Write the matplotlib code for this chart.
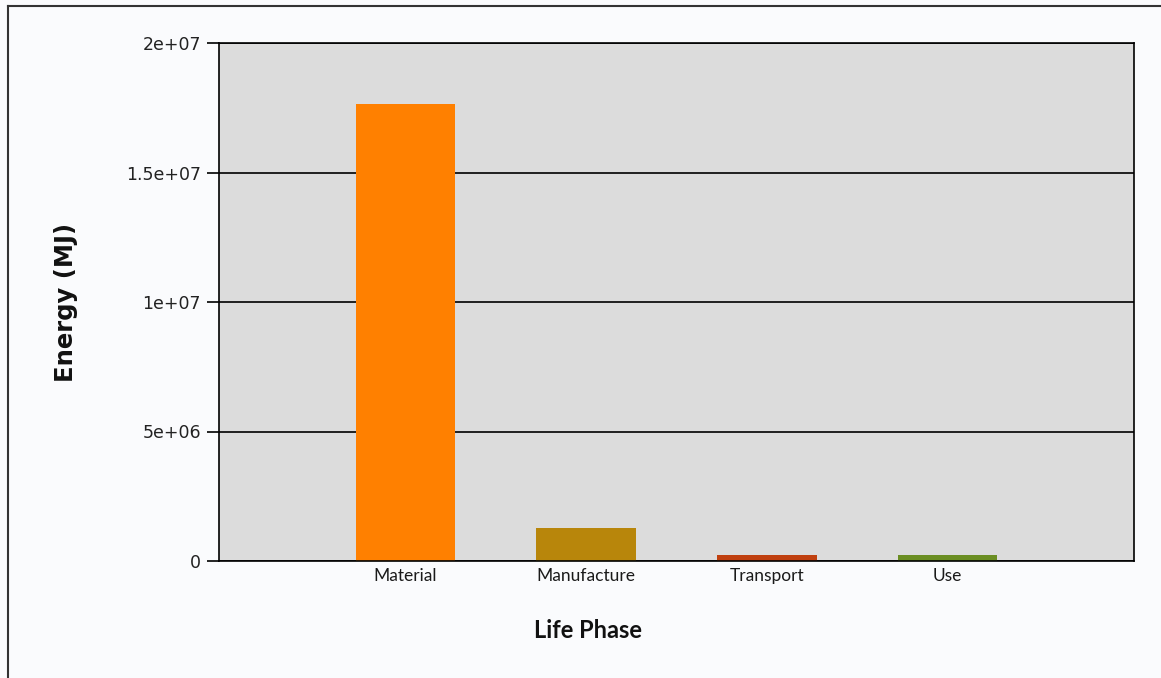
import matplotlib.pyplot as plt
from matplotlib.lines import Line2D
import numpy as np

# data
phases = ['Material', 'Manufacture', 'Transport', 'Use']
energy = [1.765e7, 1.26e6, 2.4e5, 2.2e5]
colors = ['#FF8000', '#B8860B', '#C0400F', '#6B8E23']
y_ticks = [0, 5e6, 1e7, 1.5e7, 2e7]
y_tick_labels = ['0', '5e+06', '1e+07', '1.5e+07', '2e+07']

W, H = 1161, 678
fig = plt.figure(figsize=(W / 100, H / 100), dpi=100)
fig.patch.set_facecolor('#FAFBFD')

ax = fig.add_axes([219 / W, 1 - 561 / H, (1134 - 219) / W, (561 - 43) / H])
ax.set_facecolor('#DCDCDC')

x = np.arange(1, len(phases) + 1)
ax.set_axisbelow(True)
ax.yaxis.grid(True, color='black', linewidth=1.2)
ax.bar(x, energy, width=0.55, color=colors, zorder=2)

ax.set_xlim(-0.03, 5.03)
ax.set_ylim(0, 2e7)
ax.set_yticks(y_ticks)
ax.set_yticklabels(y_tick_labels, fontsize=12.5, family='DejaVu Sans', color='#222222')
ax.set_xticks(x)
ax.set_xticklabels(phases, fontsize=12.5, family='Lato', color='#1a1a1a')
ax.tick_params(axis='y', length=9, width=1.2, pad=4)
ax.tick_params(axis='x', length=0, pad=5)
for s in ax.spines.values():
    s.set_color('black')
    s.set_linewidth(1.2)

# axis titles placed in figure pixels, as in the reference
fig.text(588 / W, 1 - 631 / H, 'Life Phase', fontsize=17, fontweight='bold',
         family='Lato', ha='center', va='center', color='#111111')
fig.text(66 / W, 1 - 302 / H, 'Energy (MJ)', fontsize=17.5, fontweight='bold',
         family='DejaVu Sans', ha='center', va='center', rotation=90, color='#111111')

# outer frame: left and top edges only
fig.add_artist(Line2D([8 / W, 8 / W], [0, 1 - 6 / H], color='#333333', linewidth=1.5))
fig.add_artist(Line2D([8 / W, 1], [1 - 6 / H, 1 - 6 / H], color='#333333', linewidth=1.5))

fig.savefig('out.png', dpi=100, facecolor=fig.get_facecolor())
